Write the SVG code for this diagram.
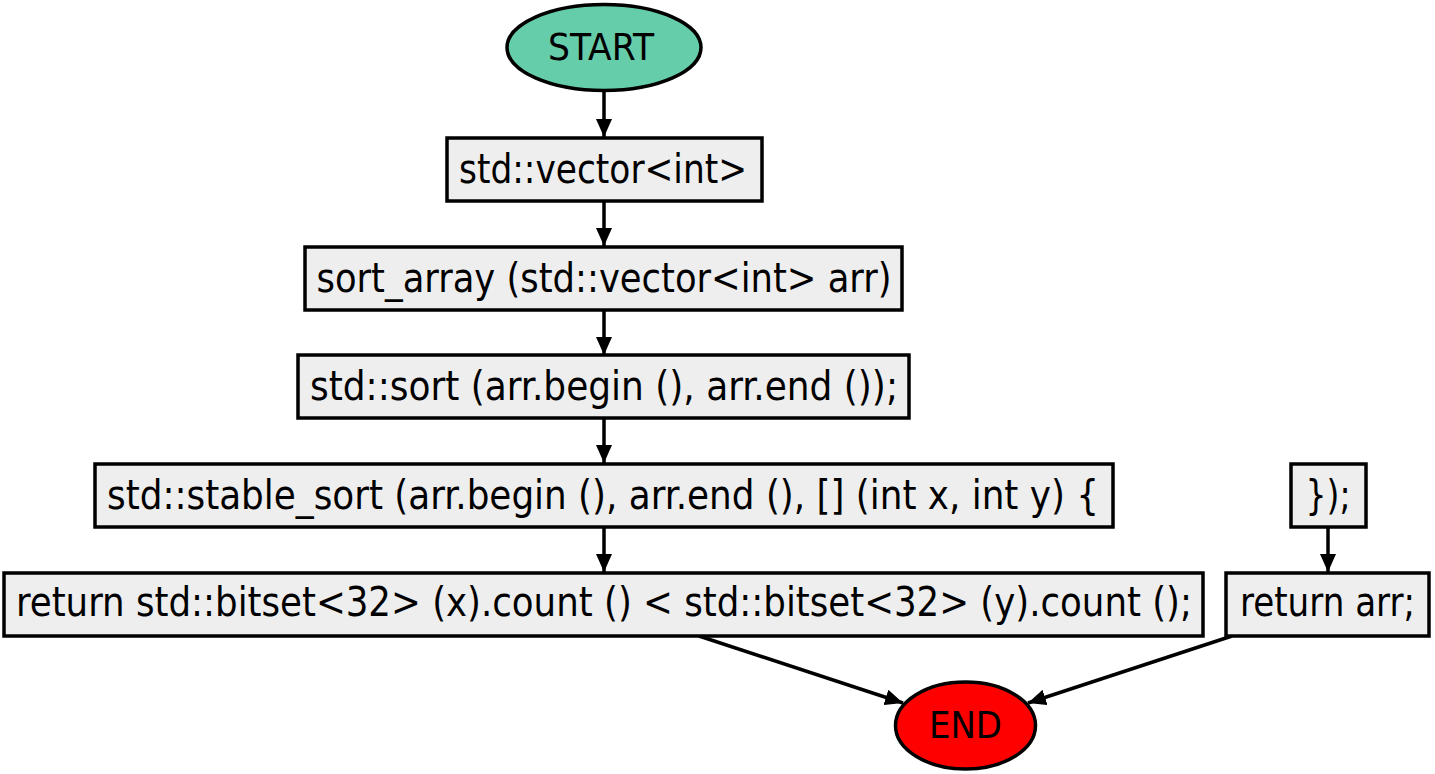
<svg xmlns="http://www.w3.org/2000/svg" width="1435" height="774" viewBox="0 0 1435 774">
<defs>
<style>
.box{fill:#eeeeee;stroke:#000;stroke-width:3.5}
.ell{stroke:#000;stroke-width:3.5}
.t{font-family:"DejaVu Sans Condensed","DejaVu Sans","Verdana",sans-serif;font-stretch:condensed;font-size:40px;fill:#000;text-anchor:middle}
.te{font-family:"DejaVu Sans Condensed","DejaVu Sans","Verdana",sans-serif;font-stretch:condensed;font-size:37px;fill:#000;text-anchor:middle}
.e{stroke:#000;stroke-width:3.5;fill:none;marker-end:url(#ah)}
</style>
<marker id="ah" markerUnits="userSpaceOnUse" markerWidth="18" markerHeight="16" refX="18" refY="8" orient="auto" viewBox="0 0 18 16">
<path d="M0,0 L18,8 L0,16 z" fill="#000"/>
</marker>
</defs>
<rect width="1435" height="774" fill="#fff"/>
<g id="connectors">
<line class="e" x1="604" y1="91" x2="604" y2="137"/>
<line class="e" x1="604" y1="201" x2="604" y2="246"/>
<line class="e" x1="604" y1="310" x2="604" y2="355"/>
<line class="e" x1="604" y1="418" x2="604" y2="463"/>
<line class="e" x1="604" y1="527" x2="604" y2="572"/>
<line class="e" x1="1328" y1="527" x2="1328" y2="572"/>
<line class="e" x1="699" y1="636" x2="903" y2="703"/>
<line class="e" x1="1232" y1="636" x2="1028" y2="703"/>
</g>
<g id="start">
<ellipse class="ell" cx="604" cy="47.5" rx="97" ry="43" fill="#66cdaa"/>
<text class="te" x="601" y="60" textLength="106" lengthAdjust="spacingAndGlyphs">START</text>
</g>
<g id="n1">
<rect class="box" x="447" y="138" width="315" height="63"/>
<text class="t" x="603" y="183" textLength="288" lengthAdjust="spacingAndGlyphs">std::vector&lt;int&gt;</text>
</g>
<g id="n2">
<rect class="box" x="305" y="247" width="597" height="63"/>
<text class="t" x="604" y="292" textLength="575" lengthAdjust="spacingAndGlyphs">sort_array (std::vector&lt;int&gt; arr)</text>
</g>
<g id="n3">
<rect class="box" x="298" y="355" width="611" height="63"/>
<text class="t" x="604" y="400" textLength="588" lengthAdjust="spacingAndGlyphs">std::sort (arr.begin (), arr.end ());</text>
</g>
<g id="n4">
<rect class="box" x="95" y="464" width="1018" height="63"/>
<text class="t" x="603" y="509" textLength="992" lengthAdjust="spacingAndGlyphs">std::stable_sort (arr.begin (), arr.end (), [] (int x, int y) {</text>
</g>
<g id="n5">
<rect class="box" x="4" y="573" width="1199" height="63"/>
<text class="t" x="604" y="616" textLength="1176" lengthAdjust="spacingAndGlyphs">return std::bitset&lt;32&gt; (x).count () &lt; std::bitset&lt;32&gt; (y).count ();</text>
</g>
<g id="n6">
<rect class="box" x="1291" y="464" width="75" height="63"/>
<text class="t" x="1328" y="509" textLength="45" lengthAdjust="spacingAndGlyphs">});</text>
</g>
<g id="n7">
<rect class="box" x="1226" y="573" width="203" height="63"/>
<text class="t" x="1327.5" y="616" textLength="175" lengthAdjust="spacingAndGlyphs">return arr;</text>
</g>
<g id="end">
<ellipse class="ell" cx="965.5" cy="725.5" rx="70" ry="43.5" fill="#ff0000"/>
<text class="te" x="965.5" y="738" textLength="73" lengthAdjust="spacingAndGlyphs">END</text>
</g>
</svg>
